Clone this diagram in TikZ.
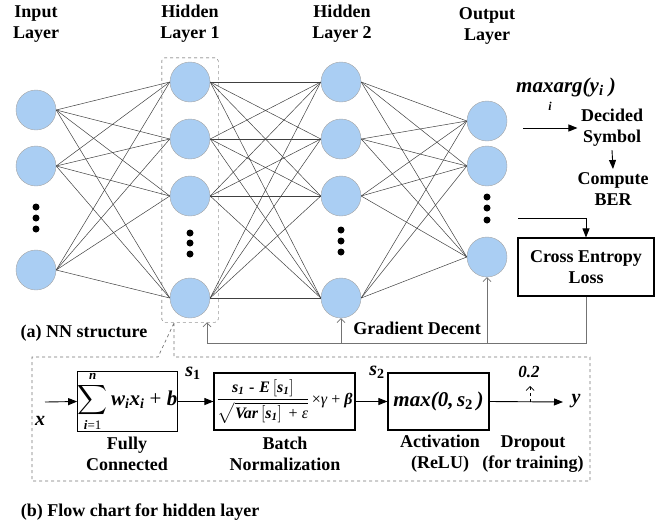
\documentclass[tikz,border=0pt]{standalone}
\usepackage{amsmath}
\usepackage{fontspec}
\setmainfont{Liberation Serif}
\usetikzlibrary{arrows.meta,fit}

\definecolor{neuronblue}{RGB}{170,206,243}
\newcommand{\bfitvar}[1]{\mbox{\bfseries\itshape #1}}
\newcommand{\itvar}[1]{\mbox{\itshape #1}}
\newcommand{\bfitsub}[2][12]{\mbox{\fontsize{#1}{#1}\selectfont\bfseries\itshape #2}}
\newcommand{\fcformula}{$\displaystyle\sum_{\bfitsub[13]{i}\mbox{\fontsize{13}{13}\selectfont=1}}^{\bfitsub[13]{n}}\bfitvar{w}_{\bfitsub[14]{i}}\bfitvar{x}_{\bfitsub[14]{i}}\mbox{ + }\bfitvar{b}$}
\newcommand{\bnformula}{$\dfrac{\bfitvar{s}_{\bfitsub[11]{1}}\;\textbf{-}\;\bfitvar{E}\left[\bfitvar{s}_{\bfitsub[11]{1}}\right]}{\sqrt{\bfitvar{Var}\left[\bfitvar{s}_{\bfitsub[11]{1}}\right]\mbox{ + }\itvar{ε}}}\mbox{\,×}\itvar{γ}\mbox{ + }\bfitvar{β}$}
\newcommand{\actformula}{\bfseries\itshape max(0,\,s\textsubscript{\upshape 2}\,)}

\begin{document}
\begin{tikzpicture}[x=1pt,y=-1pt,
  neuron/.style={circle,fill=neuronblue,draw=gray!70,line width=0.4pt,minimum size=40pt,inner sep=0pt},
  bigdot/.style={circle,fill=black,inner sep=0pt,minimum size=7pt},
  lbl/.style={font=\fontsize{18}{21}\selectfont\bfseries,align=center},
  link/.style={draw=black!75,line width=0.5pt},
  blockbox/.style={draw,line width=1.1pt,minimum height=57pt,inner sep=1pt},
  arr/.style={line width=0.9pt,-{Triangle[length=9pt,width=7pt]}},
  fb/.style={draw=black!55,line width=0.7pt},
  fbarr/.style={fb,-{Straight Barb[length=4pt,width=8pt]}}]
  \useasboundingbox (0,0) rectangle (668,525);

  % (a) layer titles
  \node[lbl] (tin) at (36,24) {Input\\Layer};
  \node[lbl] (tha) at (190,24) {Hidden\\Layer 1};
  \node[lbl] (thb) at (342,24) {Hidden\\Layer 2};
  \node[lbl] (tout) at (487,26) {Output\\Layer};

  % neurons
  \foreach \n/\y in {1/110,2/166,3/270}
    \node[neuron] (in\n) at (36,\y) {};
  \foreach \n/\y in {1/82,2/139,3/196,4/298} {
    \node[neuron] (ha\n) at (190,\y) {};
    \node[neuron] (hb\n) at (341,\y) {};
  }
  \foreach \n/\y in {1/121,2/166,3/257}
    \node[neuron] (out\n) at (487,\y) {};

  % vertical dots
  \foreach \y in {207,218,229} \node[bigdot] at (36,\y) {};
  \foreach \y in {233,243,254} \node[bigdot] at (190,\y) {};
  \foreach \y in {230,241,252} \node[bigdot] at (341,\y) {};
  \foreach \y in {197,208,220} \node[bigdot] at (487,\y) {};

  % full connections
  \foreach \a in {1,2,3}
    \foreach \b in {1,...,4}
      \draw[link] (in\a.east) -- (ha\b.west);
  \foreach \a in {1,...,4}
    \foreach \b in {1,...,4}
      \draw[link] (ha\a.east) -- (hb\b.west);
  \foreach \a in {1,...,4}
    \foreach \b in {1,2,3}
      \draw[link] (hb\a.east) -- (out\b.west);

  % hidden layer 1 frame
  \node[draw=black!75,dashed,rounded corners=3pt,inner xsep=8pt,inner ysep=4pt,fit=(ha1)(ha4)] (hbox) {};

  % decision and loss
  \node[font=\fontsize{21}{23}\selectfont\bfseries\itshape] (marg) at (566,87) {maxarg(y\textsubscript{i} )};
  \node[font=\fontsize{12}{14}\selectfont\bfseries\itshape] (margi) at (550,106) {i};
  \node[lbl] (dec) at (612,128) {Decided\\Symbol};
  \node[lbl] (ber) at (613,189) {Compute\\BER};
  \coordinate (decin) at (523,128);
  \draw[arr] (decin) -- (decin -| dec.west);
  \draw[arr] (dec.south) -- (ber.north);

  \node[draw,line width=1.1pt,minimum width=136pt,minimum height=58pt,lbl] (loss) at (586,267) {Cross Entropy\\Loss};
  \coordinate (lossin) at (518,218);
  \draw[arr] (lossin) -| (loss.north);

  % gradient feedback
  \coordinate (fbl) at (207,343);
  \draw[fb] (loss.south) |- (fbl);
  \draw[fbarr] (fbl) -- (fbl |- hbox.south);
  \draw[fbarr] (hb4.south |- fbl) -- (hb4.south);
  \draw[fbarr] (out3.south |- fbl) -- (out3.south);
  \node[lbl] (grad) at (417,328) {Gradient Decent};

  \node[lbl] (capa) at (84,333) {(a) NN structure};

  % (b) flow chart frame
  \draw[black!55,dashed,line width=0.7pt] (174,323) -- (174,357) -- (590,357) -- (590,481)
    -- (32,481) -- (32,357) -- (158,357) -- (174,323);

  % blocks
  \node[blockbox,minimum width=97pt,inner sep=0pt,font=\fontsize{21}{23}\selectfont] (fc) at (127.5,401.5) {\fcformula};
  \node[blockbox,minimum width=141pt,inner sep=0pt,font=\fontsize{16}{18}\selectfont] (bn) at (284.5,401.5) {\bnformula};
  \node[blockbox,minimum width=101pt,font=\fontsize{21}{23}\selectfont] (act) at (438.5,401.5) {\actformula};

  \coordinate (xin) at (45,402);
  \coordinate (yout) at (563,402);
  \coordinate (drop) at (530,402);
  \draw[arr] (xin) -- (fc.west);
  \draw[arr] (fc.east) -- (bn.west);
  \draw[arr] (bn.east) -- (act.west);
  \draw[arr] (act.east) -- (yout);
  \draw[dashed,line width=0.7pt,-{Straight Barb[length=4pt,width=8pt]}] (drop) -- ++(0,-16);

  \node[font=\fontsize{20}{22}\selectfont\bfseries\itshape] (xlbl) at (40,421) {x};
  \node[font=\fontsize{20}{22}\selectfont\bfseries\itshape] (ylbl) at (576,401) {y};
  \node[font=\fontsize{20}{22}\selectfont\bfseries\itshape] (sa) at (193,373) {s\textsubscript{\upshape 1}};
  \node[font=\fontsize{20}{22}\selectfont\bfseries\itshape] (sb) at (377,372) {s\textsubscript{\upshape 2}};
  \node[font=\fontsize{17}{19}\selectfont\bfseries\itshape] (prob) at (529,372) {0.2};

  \node[lbl] (tfc) at (127,454) {Fully\\Connected};
  \node[lbl] (tbn) at (285,454) {Batch\\Normalization};
  \node[lbl] (tact) at (440,454) {Activation\\(ReLU)};
  \node[lbl] (tdrop) at (533,454) {Dropout\\(for training)};

  \node[lbl] (capb) at (140,512) {(b) Flow chart for hidden layer};
\end{tikzpicture}
\end{document}
